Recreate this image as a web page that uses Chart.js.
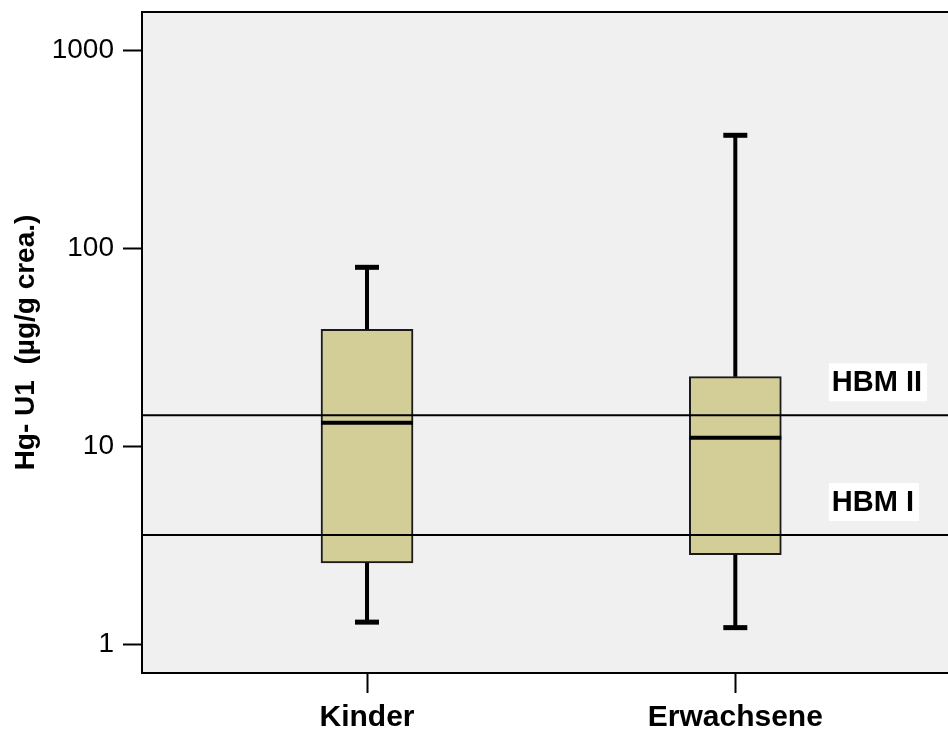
<!DOCTYPE html>
<html>
<head>
<meta charset="utf-8">
<script src="https://cdn.jsdelivr.net/npm/chart.js@4.4.1/dist/chart.umd.min.js"></script>
<style>
    html, body { margin: 0; padding: 0; background: #ffffff; overflow: hidden; }
    #wrap { position: relative; width: 948px; height: 731px; }
</style>
</head>
<body>
<div id="wrap"><canvas id="boxChart"></canvas></div>
<script>
// Box plot data (µg/g creatinine)
const categories = ['Kinder', 'Erwachsene'];
const whiskerLow = [1.29, 1.21];
const quartile1 = [2.57, 2.83];
const medians = [13.1, 11.0];
const quartile3 = [38.8, 22.4];
const whiskerHigh = [79.9, 371];

// y axis ticks (log scale)
const yTicks = [1, 10, 100, 1000];

// reference lines
const hbmLabels = ['HBM II', 'HBM I'];
const hbmValues = [14.3, 3.55];

const X_MIN = 0.389;
const X_MAX = 2.5775;
const Y_MIN = 0.714;
const Y_MAX = 1556;
const BOX_PX = 92;
const FONT = "'Liberation Sans', Arial, Helvetica, sans-serif";

/**
 * Plot background, top frame line and HBM text boxes
 */
const framePlugin = {
    id: 'frame',
    beforeDraw(chart) {
        const { ctx, chartArea: a } = chart;
        ctx.save();
        ctx.fillStyle = '#f0f0f0';
        ctx.fillRect(a.left, a.top, a.right - a.left, a.bottom - a.top);
        ctx.restore();
    },
    afterDraw(chart) {
        const { ctx, chartArea: a, scales } = chart;
        ctx.save();
        ctx.strokeStyle = '#000';
        ctx.lineWidth = 2;
        ctx.beginPath();
        ctx.moveTo(a.left - 1, a.top);
        ctx.lineTo(a.right, a.top);
        ctx.stroke();

        // HBM labels in white boxes, above their line
        ctx.font = 'bold 29px ' + FONT;
        ctx.textBaseline = 'middle';
        ctx.textAlign = 'left';
        hbmLabels.forEach((label, i) => {
            const yLine = scales.y.getPixelForValue(hbmValues[i]);
            const cy = yLine - 33;
            const x = scales.x.getPixelForValue(2.254);
            const w = ctx.measureText(label).width + 8;
            ctx.fillStyle = '#ffffff';
            ctx.fillRect(x, cy - 19, w, 38);
            ctx.fillStyle = '#000';
            ctx.fillText(label, x + 3, cy + 1);
        });
        ctx.restore();
    }
};

// build datasets from the arrays
const datasets = [];
const capHalf = 12 / 368.3;
const boxHalf = (BOX_PX / 2) / 368.3;

categories.forEach((cat, i) => {
    const x = i + 1;
    datasets.push({
        type: 'line',
        label: cat + ' median',
        data: [{ x: x - boxHalf, y: medians[i] }, { x: x + boxHalf, y: medians[i] }],
        borderColor: '#000',
        borderWidth: 4,
        borderCapStyle: 'butt',
        pointRadius: 0,
        order: 0
    });
});

hbmValues.forEach((v, i) => {
    datasets.push({
        type: 'line',
        label: hbmLabels[i],
        data: [{ x: X_MIN, y: v }, { x: X_MAX, y: v }],
        borderColor: '#000',
        borderWidth: 2,
        pointRadius: 0,
        order: 1
    });
});

categories.forEach((cat, i) => {
    const x = i + 1;
    [[quartile3[i], whiskerHigh[i]], [quartile1[i], whiskerLow[i]]].forEach(pair => {
        datasets.push({
            type: 'line',
            label: cat + ' whisker',
            data: [{ x: x, y: pair[0] }, { x: x, y: pair[1] }],
            borderColor: '#000',
            borderWidth: 4,
            borderCapStyle: 'butt',
            pointRadius: 0,
            order: 2
        });
    });
    [whiskerHigh[i], whiskerLow[i]].forEach(v => {
        datasets.push({
            type: 'line',
            label: cat + ' cap',
            data: [{ x: x - capHalf, y: v }, { x: x + capHalf, y: v }],
            borderColor: '#000',
            borderWidth: 5,
            borderCapStyle: 'butt',
            pointRadius: 0,
            order: 2
        });
    });
});

datasets.push({
    type: 'bar',
    label: 'IQR',
    data: categories.map((c, i) => ({ x: i + 1, y: [quartile1[i], quartile3[i]] })),
    backgroundColor: '#d3ce98',
    borderColor: '#1a1a1a',
    borderWidth: 2,
    borderSkipped: false,
    barThickness: BOX_PX,
    order: 3
});

const ctx = document.getElementById('boxChart');

new Chart(ctx, {
    type: 'bar',
    data: { datasets: datasets },
    plugins: [framePlugin],
    options: {
        responsive: true,
        maintainAspectRatio: false,
        animation: false,
        layout: {
            padding: { top: 12, right: 0, bottom: 0, left: 0 }
        },
        plugins: {
            legend: { display: false },
            tooltip: { enabled: false },
            title: { display: false }
        },
        scales: {
            x: {
                type: 'linear',
                min: X_MIN,
                max: X_MAX,
                bounds: 'data',
                offset: false,
                afterBuildTicks: function(scale) {
                    scale.ticks = categories.map((c, i) => ({ value: i + 1 }));
                },
                afterFit: function(scale) {
                    scale.height = 58;
                    scale.paddingLeft = 0;
                    scale.paddingRight = 0;
                },
                grid: {
                    display: true,
                    offset: false,
                    drawOnChartArea: false,
                    drawTicks: true,
                    tickLength: 20,
                    color: '#000',
                    tickWidth: 2
                },
                border: { display: true, color: '#000', width: 2 },
                ticks: {
                    autoSkip: false,
                    maxRotation: 0,
                    padding: 7,
                    color: '#000',
                    font: { family: FONT, size: 30, weight: 'bold' },
                    callback: function(value) {
                        return categories[value - 1] || '';
                    }
                }
            },
            y: {
                type: 'logarithmic',
                min: Y_MIN,
                max: Y_MAX,
                bounds: 'data',
                afterBuildTicks: function(scale) {
                    scale.ticks = yTicks.map(v => ({ value: v }));
                },
                afterFit: function(scale) {
                    scale.width = 142;
                    scale.paddingTop = 0;
                    scale.paddingBottom = 0;
                },
                grid: {
                    display: true,
                    drawOnChartArea: false,
                    drawTicks: true,
                    tickLength: 19,
                    color: '#000',
                    tickWidth: 2
                },
                border: { display: true, color: '#000', width: 2 },
                ticks: {
                    padding: 9,
                    color: '#000',
                    font: { family: FONT, size: 28 },
                    callback: function(value) {
                        return String(value);
                    }
                },
                title: {
                    display: true,
                    text: 'Hg- U1  (µg/g crea.)',
                    color: '#000',
                    padding: { top: 9, bottom: 0 },
                    font: { family: FONT, size: 28, weight: 'bold' }
                }
            }
        }
    }
});
</script>
</body>
</html>
